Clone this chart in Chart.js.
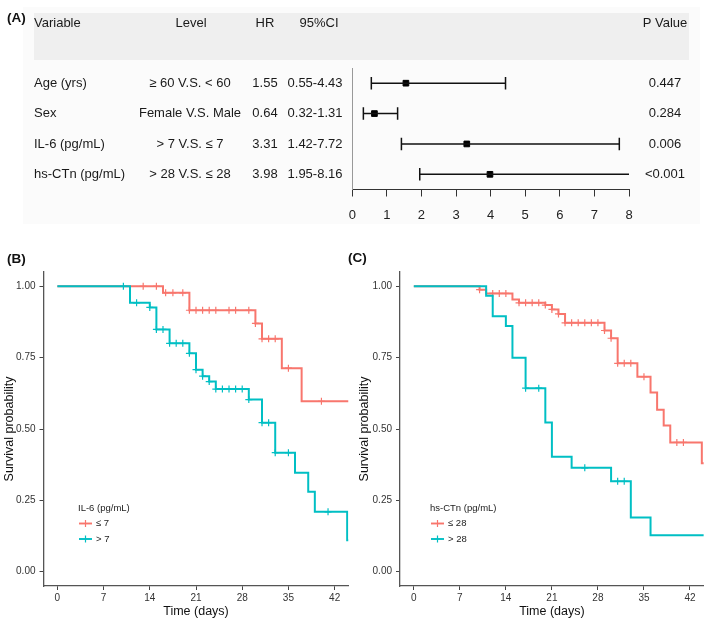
<!DOCTYPE html>
<html>
<head>
<meta charset="utf-8">
<title>Cox regression and Kaplan-Meier curves</title>
<script src="https://cdn.jsdelivr.net/npm/chart.js@4.4.1/dist/chart.umd.min.js"></script>
<style>
  body { margin: 0; background: #fff; }
  #wrap { position: relative; width: 709px; height: 621px; overflow: hidden; font-family: 'Liberation Sans', Arial, sans-serif; }
  canvas { position: absolute; }
  .tag { position: absolute; font-weight: bold; font-size: 13.5px; color: #111; line-height: 16px; }
</style>
</head>
<body>
<div id="wrap">
  <canvas id="forest" width="709" height="240" style="left:0;top:0"></canvas>
  <canvas id="kmB" width="355" height="359" style="left:0;top:262px"></canvas>
  <canvas id="kmC" width="354" height="359" style="left:355px;top:262px"></canvas>
  <div class="tag" style="left:7px;top:10px">(A)</div>
  <div class="tag" style="left:7px;top:251px">(B)</div>
  <div class="tag" style="left:348px;top:250px">(C)</div>
</div>
<script>
// ---- panel A: cox model ----
const variables = ['Age (yrs)', 'Sex', 'IL-6 (pg/mL)', 'hs-CTn (pg/mL)'];
const levels = ['≥ 60 V.S. < 60', 'Female V.S. Male', '> 7 V.S. ≤ 7', '> 28 V.S. ≤ 28'];
const hr = [1.55, 0.64, 3.31, 3.98];
const ciLow = [0.55, 0.32, 1.42, 1.95];
const ciHigh = [4.43, 1.31, 7.72, 8.16];
const pValues = ['0.447', '0.284', '0.006', '<0.001'];

// ---- panel B: IL-6 ----
const timesLowB = [0, 16, 20, 30, 31, 34, 37, 44.1];
const survLowB = [1, 0.977, 0.916, 0.87, 0.816, 0.713, 0.597, 0.597];
const censorLowB = [13, 15, 16.4, 17.5, 19, 20, 21, 22, 23, 24, 26, 27, 29, 30, 31, 32, 33, 35, 40];
const timesHighB = [0, 11, 14, 15, 17, 20, 21, 22, 23, 24, 29, 31, 33, 36, 38, 39, 43.9, 44.1];
const survHighB = [1, 0.942, 0.926, 0.849, 0.80, 0.765, 0.708, 0.685, 0.666, 0.64, 0.603, 0.522, 0.417, 0.347, 0.28, 0.21, 0.11, 0.11];
const censorHighB = [10, 12, 14, 15, 16, 17, 18, 19, 20, 21, 22, 23, 24, 25, 26, 27, 28, 29, 31, 32, 33, 35, 41];

// ---- panel C: hs-CTn ----
const timesLowC = [0, 10, 11, 15, 16, 20, 21, 22, 23, 29, 30, 31, 34, 36, 37, 38, 39, 43.8, 44.1];
const survLowC = [1, 0.988, 0.975, 0.954, 0.942, 0.934, 0.919, 0.903, 0.872, 0.845, 0.818, 0.73, 0.683, 0.628, 0.567, 0.512, 0.453, 0.38, 0.38];
const censorLowC = [10, 12, 13, 14, 16, 17, 18, 19, 20, 21, 22, 23, 24, 25, 26, 27, 28, 29, 30, 31, 32, 33, 35, 40, 41];
const timesHighC = [0, 11, 12, 14, 15, 17, 20, 21, 24, 30, 33, 36, 44.1];
const survHighC = [1, 0.967, 0.895, 0.861, 0.75, 0.643, 0.523, 0.403, 0.364, 0.317, 0.19, 0.128, 0.128];
const censorHighC = [17, 19, 26, 31, 32];

const xTicks = [0, 7, 14, 21, 28, 35, 42];
const yTicks = [0, 0.25, 0.5, 0.75, 1];

const RED = '#F8766D';
const CYAN = '#00BFC4';
const FONT = "'Liberation Sans', Arial, sans-serif";

Chart.defaults.font.family = FONT;
Chart.defaults.animation = false;

// table text + header band for the forest plot
const tablePlugin = {
    id: 'table',
    beforeDraw(chart) {
        const ctx = chart.ctx;
        ctx.save();
        ctx.fillStyle = '#fbfbfb';
        ctx.fillRect(23, 7, 677, 217);
        ctx.fillStyle = '#efefef';
        ctx.fillRect(34, 13, 655, 47);
        ctx.restore();
    },
    afterDraw(chart) {
        const ctx = chart.ctx;
        const y = chart.scales.y;
        ctx.save();
        ctx.font = '13px ' + FONT;
        ctx.fillStyle = '#1a1a1a';
        ctx.textBaseline = 'middle';
        ctx.textAlign = 'left';
        ctx.fillText('Variable', 34, 23);
        ctx.textAlign = 'center';
        ctx.fillText('Level', 191, 23);
        ctx.fillText('HR', 265, 23);
        ctx.fillText('95%CI', 319, 23);
        ctx.fillText('P Value', 665, 23);
        variables.forEach((v, i) => {
            const py = y.getPixelForValue(i + 1);
            ctx.textAlign = 'left';
            ctx.fillText(v, 34, py);
            ctx.textAlign = 'center';
            ctx.fillText(levels[i], 190, py);
            ctx.fillText(hr[i].toFixed(2), 265, py);
            ctx.fillText(ciLow[i].toFixed(2) + '-' + ciHigh[i].toFixed(2), 315, py);
            ctx.fillText(pValues[i], 665, py);
        });
        ctx.restore();
    }
};

const forestSets = variables.map((v, i) => ({
    type: 'line',
    data: [{x: ciLow[i], y: i + 1}, {x: ciHigh[i], y: i + 1}],
    borderColor: '#111',
    borderWidth: 1.4,
    pointStyle: 'line',
    pointRotation: 90,
    pointRadius: 6.3,
    pointBorderWidth: 1.5,
    pointBorderColor: '#111'
}));
forestSets.push({
    type: 'scatter',
    data: hr.map((h, i) => ({x: h, y: i + 1})),
    pointStyle: 'rect',
    pointRadius: 4,
    backgroundColor: '#000',
    borderColor: '#000',
    borderWidth: 1
});

new Chart(document.getElementById('forest'), {
    type: 'scatter',
    data: {datasets: forestSets},
    options: {
        responsive: false,
        layout: {padding: {left: 352.3, right: 80, top: 68, bottom: 10.5}},
        plugins: {legend: {display: false}, tooltip: {enabled: false}},
        scales: {
            x: {
                type: 'linear', min: 0, max: 8,
                ticks: {stepSize: 1, color: '#222', font: {size: 13}, padding: 11},
                grid: {drawOnChartArea: false, tickLength: 7, tickColor: '#333'},
                border: {color: '#333', width: 1},
                afterFit(s) { s.height = 40; }
            },
            y: {
                type: 'linear', min: 0.5, max: 4.5, reverse: true,
                ticks: {display: false},
                grid: {drawOnChartArea: false, drawTicks: false},
                border: {color: '#999', width: 1},
                afterFit(s) { s.width = 0; }
            }
        }
    },
    plugins: [tablePlugin]
});

// ---- kaplan-meier panels ----
function survAt(times, surv, t) {
    let s = surv[0];
    times.forEach((tt, i) => { if (tt <= t) s = surv[i]; });
    return s;
}

const kmLegend = {
    id: 'kmLegend',
    afterDraw(chart, args, opts) {
        const ctx = chart.ctx;
        ctx.save();
        ctx.fillStyle = '#222';
        ctx.textBaseline = 'middle';
        ctx.textAlign = 'left';
        ctx.font = '9.5px ' + FONT;
        ctx.fillText(opts.title, opts.x, opts.y);
        opts.labels.forEach((lab, i) => {
            const yy = opts.y + 15.5 * (i + 1);
            const col = opts.colors[i];
            ctx.strokeStyle = col;
            ctx.lineWidth = 1.9;
            ctx.beginPath();
            ctx.moveTo(opts.x + 1, yy);
            ctx.lineTo(opts.x + 14, yy);
            ctx.stroke();
            ctx.lineWidth = 1.2;
            ctx.beginPath();
            ctx.moveTo(opts.x + 7.5, yy - 3.5);
            ctx.lineTo(opts.x + 7.5, yy + 3.5);
            ctx.stroke();
            ctx.fillText(lab, opts.x + 18, yy);
        });
        ctx.restore();
    }
};

function kmChart(id, groups, legendOpts, yWidth, padRight) {
    const datasets = [];
    groups.forEach((g, gi) => {
        datasets.push({
            type: 'line',
            data: g.times.map((t, i) => ({x: t, y: g.surv[i]})),
            stepped: true,
            borderColor: g.color,
            borderWidth: 2,
            pointRadius: 0,
            order: g.order
        });
        datasets.push({
            type: 'scatter',
            data: g.censor.map(t => ({x: t, y: survAt(g.times, g.surv, t)})),
            pointStyle: 'cross',
            pointRadius: 3.5,
            borderColor: g.color,
            pointBorderWidth: 1.2,
            order: g.order
        });
    });
    return new Chart(document.getElementById(id), {
        type: 'scatter',
        data: {datasets},
        options: {
            responsive: false,
            layout: {padding: {left: 0, right: padRight, top: 8, bottom: 0}},
            plugins: {legend: {display: false}, tooltip: {enabled: false}, kmLegend: legendOpts},
            scales: {
                x: {
                    type: 'linear', min: -2.1, max: 44.1,
                    afterBuildTicks(s) { s.ticks = xTicks.map(v => ({value: v})); },
                    ticks: {color: '#333', font: {size: 10}, padding: 2},
                    grid: {drawOnChartArea: false, tickLength: 4, tickColor: '#444'},
                    border: {color: '#555', width: 1.3},
                    title: {display: true, text: 'Time (days)', color: '#111', font: {size: 12.5}, padding: {top: 0, bottom: 1.5}},
                    afterFit(s) { s.height = 35; }
                },
                y: {
                    type: 'linear', min: -0.05, max: 1.05,
                    afterBuildTicks(s) { s.ticks = yTicks.map(v => ({value: v})); },
                    ticks: {color: '#333', font: {size: 10}, padding: 4, callback: v => v.toFixed(2)},
                    grid: {drawOnChartArea: false, tickLength: 4, tickColor: '#444'},
                    border: {color: '#555', width: 1.3},
                    title: {display: true, text: 'Survival probability', color: '#111', font: {size: 12.5}, padding: {top: 2, bottom: 0}},
                    afterFit(s) { s.width = yWidth; }
                }
            }
        },
        plugins: [kmLegend]
    });
}

kmChart('kmB', [
    {times: timesLowB, surv: survLowB, censor: censorLowB, color: RED, order: 2},
    {times: timesHighB, surv: survHighB, censor: censorHighB, color: CYAN, order: 1}
], {title: 'IL-6 (pg/mL)', labels: ['≤ 7', '> 7'], colors: [RED, CYAN], x: 78, y: 246}, 43.5, 6.5);

kmChart('kmC', [
    {times: timesLowC, surv: survLowC, censor: censorLowC, color: RED, order: 2},
    {times: timesHighC, surv: survHighC, censor: censorHighC, color: CYAN, order: 1}
], {title: 'hs-CTn (pg/mL)', labels: ['≤ 28', '> 28'], colors: [RED, CYAN], x: 75, y: 246}, 45, 4.5);
</script>
</body>
</html>
